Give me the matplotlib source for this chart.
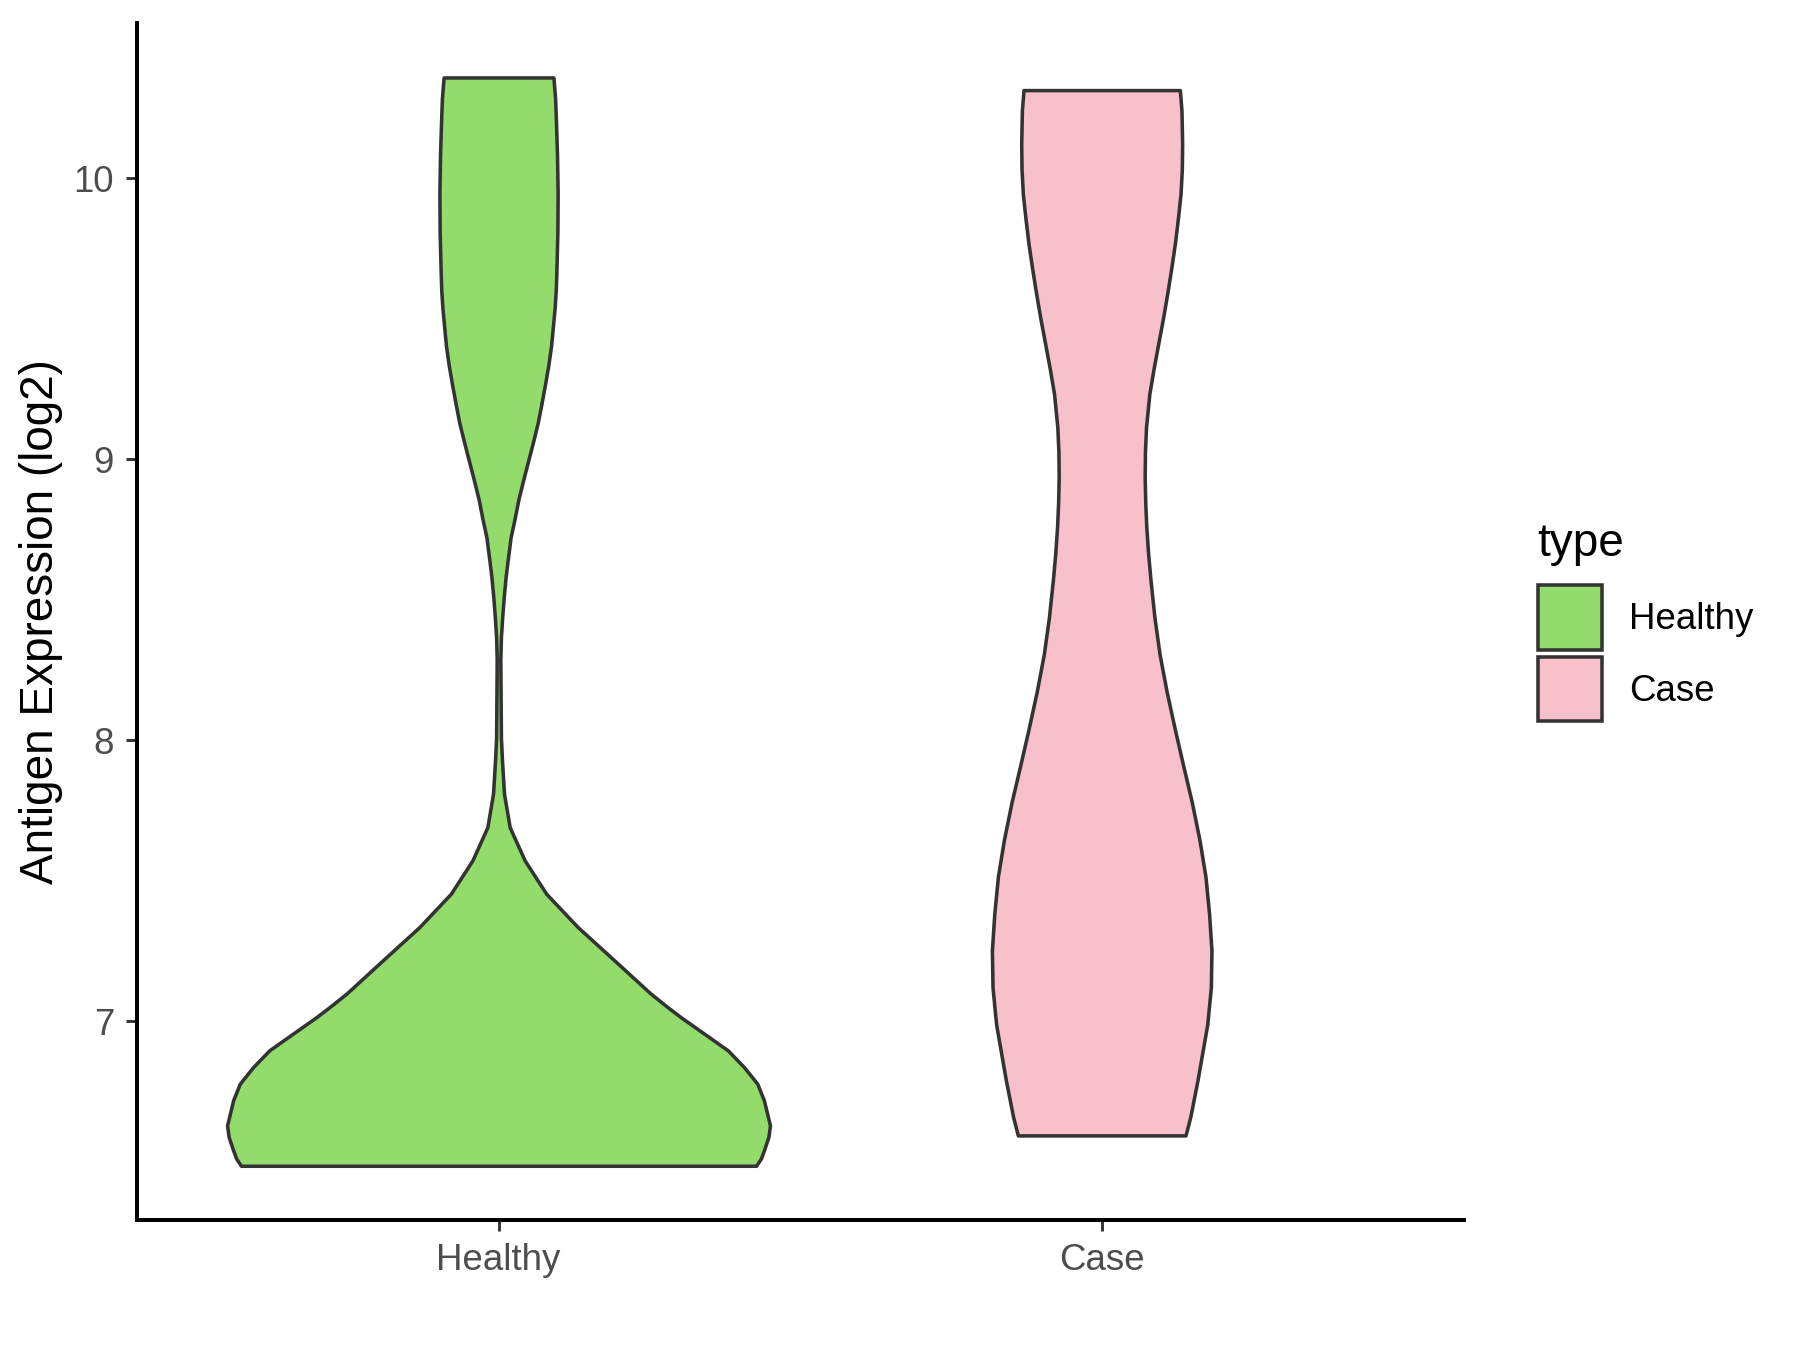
import matplotlib
matplotlib.use("Agg")
import matplotlib.pyplot as plt
from matplotlib.patches import Patch

plt.rcParams['font.family'] = ['Liberation Sans', 'DejaVu Sans']

groups = ["Healthy", "Case"]
fills = ["#93DB6A", "#F7C0CA"]

# violin outlines: expression value and half-width (x units)
healthy_y = [6.486, 6.512, 6.541, 6.589, 6.630, 6.719, 6.778, 6.837, 6.897, 6.956,
             7.015, 7.051, 7.099, 7.217, 7.335, 7.454, 7.573, 7.691, 7.810,
             7.928, 8.008, 8.288, 8.368, 8.450, 8.516, 8.586, 8.652, 8.722, 8.788,
             8.858, 8.924, 8.994, 9.060, 9.130, 9.196, 9.266, 9.333, 9.402, 9.469,
             9.538, 9.605, 9.674, 9.809, 9.946, 10.081, 10.218, 10.286, 10.359]
healthy_w = [0.427, 0.435, 0.440, 0.4475, 0.450, 0.440, 0.429, 0.407, 0.380, 0.341,
             0.302, 0.280, 0.252, 0.192, 0.1315, 0.0791, 0.0433, 0.0185, 0.0091,
             0.0058, 0.004, 0.003, 0.004, 0.0065, 0.0089, 0.012, 0.0158, 0.020, 0.0266,
             0.033, 0.0406, 0.049, 0.057, 0.065, 0.071, 0.077, 0.0824, 0.087, 0.090,
             0.093, 0.095, 0.096, 0.0976, 0.098, 0.097, 0.095, 0.0938, 0.091]

case_y = [6.594, 6.661, 6.792, 6.989, 7.121, 7.253, 7.384, 7.516, 7.647, 7.779,
          7.911, 8.042, 8.174, 8.306, 8.437, 8.569, 8.664, 8.758, 8.847, 8.936,
          9.025, 9.114, 9.233, 9.322, 9.411, 9.500, 9.589, 9.678, 9.767, 9.856,
          9.944, 10.033, 10.122, 10.241, 10.314]
case_w = [0.139, 0.147, 0.159, 0.175, 0.181, 0.182, 0.178, 0.172, 0.162, 0.1495,
          0.135, 0.121, 0.1076, 0.096, 0.0875, 0.081, 0.0770, 0.0740, 0.0722, 0.0713,
          0.0717, 0.0735, 0.0790, 0.086, 0.0937, 0.1015, 0.1086, 0.1152, 0.1213, 0.1263,
          0.1307, 0.1329, 0.1334, 0.1323, 0.1296]

yticks = [7, 8, 9, 10]

fig = plt.figure(figsize=(12, 9), dpi=150)
ax = fig.add_axes([0.0759, 0.0961, 0.8131 - 0.0759, 0.983 - 0.0961])

outline = "#333333"
for i, (ys, ws) in enumerate([(healthy_y, healthy_w), (case_y, case_w)]):
    pos = i + 1
    ax.fill_betweenx(ys, [pos - w for w in ws], [pos + w for w in ws],
                     facecolor=fills[i], edgecolor=outline, linewidth=1.7,
                     joinstyle="round", zorder=2)

ax.set_xlim(0.4, 2.6)
ax.set_ylim(6.292, 10.553)
ax.set_xticks([1, 2])
ax.set_xticklabels(groups)
ax.set_yticks(yticks)
ax.set_yticklabels([str(t) for t in yticks])

for side in ["top", "right"]:
    ax.spines[side].set_visible(False)
for side in ["left", "bottom"]:
    ax.spines[side].set_linewidth(1.9)
    ax.spines[side].set_color("black")

ax.tick_params(axis="both", length=5.3, width=1.4, color=outline,
               labelcolor="#4D4D4D", labelsize=17.6, pad=5.5)
ax.set_ylabel("Antigen Expression (log2)", fontsize=22, color="black", labelpad=5)

handles = [Patch(facecolor=fills[i], edgecolor=outline, linewidth=1.7, label=g)
           for i, g in enumerate(groups)]
leg = fig.legend(handles=handles, title="type", loc="upper left",
                 bbox_to_anchor=(0.844, 0.627), frameon=False, fontsize=17.6,
                 title_fontsize=22, handlelength=1.75, handleheight=2.32,
                 handletextpad=0.75, labelspacing=0.2, borderpad=0)
leg._legend_box.align = "left"
leg._legend_box.sep = 9.4

fig.savefig("out.png", dpi=150)
